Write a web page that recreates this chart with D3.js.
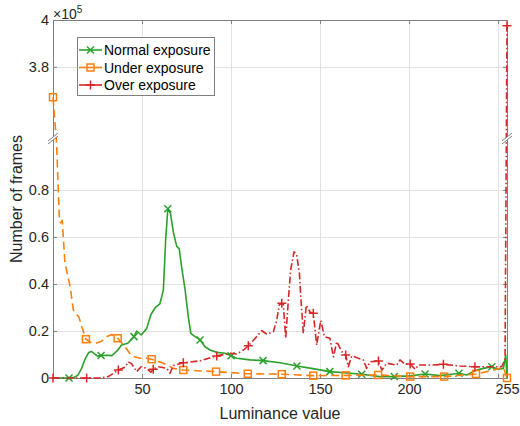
<!DOCTYPE html>
<html>
<head>
<meta charset="utf-8">
<script src="https://cdn.jsdelivr.net/npm/d3@7"></script>
<style>
  body { margin: 0; background: #fff; }
  svg { display: block; font-family: "Liberation Sans", Arial, sans-serif; }
</style>
</head>
<body>
<svg id="chart" width="520" height="426"></svg>
<script>
const WIDTH = 520;
const HEIGHT = 426;
const PLOT = { left: 53, right: 507, top: 20, bottom: 378 };
const BREAK_Y = 137;

// broken y axis: lower panel 0..1.025, upper panel 3.5..4 (x 10^5)
const LOWER_MAX = 1.025;
const UPPER_MIN = 3.5;
const UPPER_MAX = 4;

const xTicks = [50, 100, 150, 200, 250, 255];
const xTickLabels = ["50", "100", "150", "200", "", "255"];
const yTicks = [0, 0.2, 0.4, 0.6, 0.8, 3.8, 4];
const yTickLabels = ["0", "0.2", "0.4", "0.6", "0.8", "3.8", "4"];

const seriesNames = ["Normal exposure", "Under exposure", "Over exposure"];

// Normal exposure
const normalLum = [0, 9, 12, 14, 16, 18, 20, 21.5, 23, 25, 27, 30, 33, 36, 38.5, 42, 45.5, 47, 49.5, 52.6, 55,
  57.5, 60, 62, 63.3, 64.5, 66, 67.6, 69.5, 70.9, 72.3, 74.2, 76, 77.4, 79.8, 82.6, 85.4, 88.2, 92, 96.6,
  100, 103.2, 110.7, 118, 127.5, 137, 146, 155.5, 167, 173.4, 183.7, 191.7, 200.6, 209, 217.4, 225, 228,
  232.4, 238, 241.7, 246.5, 250, 253, 254.3, 255];
const normalVal = [0, 0, 0.003, 0.012, 0.04, 0.08, 0.108, 0.113, 0.105, 0.093, 0.096, 0.097, 0.095, 0.115, 0.14, 0.148, 0.176, 0.2, 0.183, 0.21, 0.27,
  0.3, 0.315, 0.375, 0.59, 0.72, 0.70, 0.62, 0.56, 0.55, 0.47, 0.375, 0.26, 0.19, 0.176, 0.162, 0.133, 0.119, 0.109, 0.105,
  0.095, 0.084, 0.077, 0.074, 0.065, 0.051, 0.04, 0.027, 0.02, 0.016, 0.006, 0.006, 0.009, 0.017, 0.01, 0.017, 0.02,
  0.013, 0.034, 0.041, 0.048, 0.037, 0.041, 0.098, 0];
const normalMarks = [9, 27, 45.5, 64.5, 82.6, 100, 118, 137, 155.5, 173.4, 191.7, 209, 228, 246.5];

// Under exposure
const underLum = [0, 2, 3.5, 4.2, 5.2, 6.7, 9.6, 11.4, 13.3, 14.5, 16.1, 17.4, 18.5, 21, 24, 27, 30, 33, 36.3, 40.4,
  44.2, 48.9, 52.6, 55.4, 62, 67.6, 73.2, 91.6, 109.4, 128.5, 146.2, 164.4, 182.6, 200.6, 219.7, 237.6, 243.6,
  247.3, 253, 255];
const underVal = [3.67, 1.0, 0.69, 0.66, 0.67, 0.49, 0.39, 0.29, 0.27, 0.26, 0.22, 0.19, 0.165, 0.152, 0.148, 0.155, 0.175, 0.185, 0.169, 0.133,
  0.094, 0.084, 0.084, 0.08, 0.063, 0.041, 0.034, 0.027, 0.018, 0.016, 0.01, 0.011, 0.013, 0.006, 0.006, 0.017, 0.027,
  0.034, 0.045, 0];
const underMarks = [0, 18.5, 36.3, 55.4, 73.2, 91.6, 109.4, 128.5, 146.2, 164.4, 182.6, 200.6, 219.7, 237.6, 255];

// Over exposure
const overLum = [0, 18.9, 26, 31, 34, 36.7, 40.4, 42.3, 44.2, 47, 49.5, 52.6, 55, 56.3, 59.2, 63.9, 65.7, 67.6, 73.2,
  82.6, 92, 99.4, 103.2, 107, 109.7, 114.4, 117.2, 120, 123.8, 125.7, 127.1, 128.5, 129.4, 130.7, 132.2, 133.5,
  135.4, 136.9, 138.4, 139.3, 140.6, 142.3, 144.4, 146.2, 148.1, 150.4, 152.5, 155.5, 157.5, 159.4, 162.2, 164.4,
  165.9, 167.8, 171.5, 174.3, 176.2, 178.1, 182.8, 184.7, 187.5, 193.1, 194.9, 197.8, 200.6, 203.4, 205.2, 213.7,
  219.3, 228.7, 237, 243.6, 252, 253.9, 255];
const overVal = [0, 0, 0, 0.006, 0.02, 0.034, 0.046, 0.069, 0.06, 0.027, 0.048, 0.041, 0.025, 0.037, 0.048, 0.041, 0.02, 0.053, 0.065,
  0.073, 0.094, 0.105, 0.102, 0.119, 0.137, 0.176, 0.201, 0.187, 0.197, 0.247, 0.311, 0.318, 0.311, 0.169, 0.332, 0.46,
  0.537, 0.523, 0.445, 0.332, 0.19, 0.31, 0.28, 0.275, 0.14, 0.245, 0.176, 0.169, 0.09, 0.155, 0.112, 0.098,
  0.048, 0.094, 0.084, 0.077, 0.041, 0.069, 0.072, 0.034, 0.063, 0.055, 0.077, 0.058, 0.06, 0.037, 0.055, 0.055,
  0.058, 0.051, 0.048, 0.048, 0.048, 0.077, 3.975];
const overMarks = [0, 18.9, 36.7, 56.3, 73.2, 92, 109.7, 128.5, 146.2, 164.4, 182.8, 200.6, 219.3, 237, 255];

const series = [
  { name: seriesNames[0], lum: normalLum, val: normalVal, marks: normalMarks, color: "#2ca02c", dash: null, marker: "x" },
  { name: seriesNames[1], lum: underLum, val: underVal, marks: underMarks, color: "#ff7f0e", dash: "8,4.5", marker: "square" },
  { name: seriesNames[2], lum: overLum, val: overVal, marks: overMarks, color: "#d62728", dash: "7,2.5,1.5,2.5", marker: "plus" }
];

const svg = d3.select("#chart").attr("viewBox", [0, 0, WIDTH, HEIGHT]);

const x = d3.scaleLinear().domain([0, 255]).range([PLOT.left, PLOT.right]);
const y = d3.scaleLinear()
  .domain([0, LOWER_MAX, UPPER_MIN, UPPER_MAX])
  .range([PLOT.bottom, BREAK_Y, BREAK_Y, PLOT.top]);

const AXIS_COLOR = "#808080";
const TEXT_COLOR = "#262626";
const GRID_COLOR = "#e2e2e2";

// grid
const grid = svg.append("g");
grid.selectAll("line.gx")
  .data([50, 100, 150, 200, 250])
  .join("line")
  .attr("x1", d => Math.round(x(d)) + 0.5).attr("x2", d => Math.round(x(d)) + 0.5)
  .attr("y1", PLOT.top).attr("y2", PLOT.bottom)
  .attr("stroke", GRID_COLOR);
grid.selectAll("line.gy")
  .data([0.2, 0.4, 0.6, 0.8, 3.8])
  .join("line")
  .attr("y1", d => Math.round(y(d)) + 0.5).attr("y2", d => Math.round(y(d)) + 0.5)
  .attr("x1", PLOT.left).attr("x2", PLOT.right)
  .attr("stroke", GRID_COLOR);

// axes (ticks inside, box drawn separately)
const fmtX = d => xTickLabels[xTicks.indexOf(d)];
const fmtY = d => yTickLabels[yTicks.indexOf(d)];

function styleAxis(sel) {
  sel.select(".domain").remove();
  sel.selectAll(".tick line").attr("stroke", AXIS_COLOR);
  sel.selectAll(".tick text").attr("fill", TEXT_COLOR).style("font-size", "14.5px");
}

svg.append("g")
  .attr("transform", `translate(0,${PLOT.bottom})`)
  .call(d3.axisBottom(x).tickValues(xTicks).tickFormat(fmtX).tickSize(-4).tickPadding(6))
  .call(styleAxis);
svg.append("g")
  .attr("transform", `translate(0,${PLOT.top})`)
  .call(d3.axisTop(x).tickValues(xTicks).tickFormat("").tickSize(-4))
  .call(styleAxis);
svg.append("g")
  .attr("transform", `translate(${PLOT.left},0)`)
  .call(d3.axisLeft(y).tickValues(yTicks).tickFormat(fmtY).tickSize(-4).tickPadding(4))
  .call(styleAxis);
svg.append("g")
  .attr("transform", `translate(${PLOT.right},0)`)
  .call(d3.axisRight(y).tickValues(yTicks).tickFormat("").tickSize(-4))
  .call(styleAxis);

svg.selectAll(".tick text").attr("font-family", null);

// box
svg.append("rect")
  .attr("x", PLOT.left + 0.5).attr("y", PLOT.top + 0.5)
  .attr("width", PLOT.right - PLOT.left).attr("height", PLOT.bottom - PLOT.top)
  .attr("fill", "none").attr("stroke", AXIS_COLOR);

// exponent label
const expo = svg.append("text")
  .attr("x", PLOT.left).attr("y", 19)
  .attr("fill", TEXT_COLOR).style("font-size", "14px");
expo.append("tspan").text("×10");
expo.append("tspan").attr("dy", -6).style("font-size", "10px").text("5");

// markers
function drawMarker(g, type, color, cx, cy) {
  if (type === "x") {
    const s = 3.5;
    g.append("path").attr("d", `M${cx - s},${cy - s}L${cx + s},${cy + s}M${cx - s},${cy + s}L${cx + s},${cy - s}`)
      .attr("stroke", color).attr("stroke-width", 1.5).attr("fill", "none");
  } else if (type === "square") {
    const s = 3.5;
    g.append("rect").attr("x", cx - s).attr("y", cy - s).attr("width", 2 * s).attr("height", 2 * s)
      .attr("stroke", color).attr("stroke-width", 1.5).attr("fill", "none");
  } else {
    const s = 4.5;
    g.append("path").attr("d", `M${cx - s},${cy}L${cx + s},${cy}M${cx},${cy - s}L${cx},${cy + s}`)
      .attr("stroke", color).attr("stroke-width", 1.5).attr("fill", "none");
  }
}

const line = d3.line().x(d => x(d[0])).y(d => y(d[1]));

series.forEach(s => {
  const pts = s.lum.map((l, i) => [l, s.val[i]]);
  const g = svg.append("g");
  g.append("path")
    .attr("d", line(pts))
    .attr("fill", "none")
    .attr("stroke", s.color)
    .attr("stroke-width", 1.6)
    .attr("stroke-linejoin", "round")
    .attr("stroke-dasharray", s.dash);
  s.marks.forEach(m => {
    const i = s.lum.indexOf(m);
    if (i >= 0) drawMarker(g, s.marker, s.color, x(s.lum[i]), y(s.val[i]));
  });
});

// axis break marks
[PLOT.left, PLOT.right].forEach(bx => {
  const g = svg.append("g");
  g.append("path")
    .attr("d", `M${bx - 5},${BREAK_Y + 4}L${bx + 5},${BREAK_Y - 4}L${bx + 5},${BREAK_Y - 1}L${bx - 5},${BREAK_Y + 7}Z`)
    .attr("fill", "#fff");
  g.append("path")
    .attr("d", `M${bx - 5},${BREAK_Y + 4}L${bx + 5},${BREAK_Y - 4}M${bx - 5},${BREAK_Y + 7}L${bx + 5},${BREAK_Y - 1}`)
    .attr("stroke", AXIS_COLOR).attr("fill", "none");
});

// legend
const legend = svg.append("g");
legend.append("rect")
  .attr("x", 77.5).attr("y", 37.5).attr("width", 137).attr("height", 58)
  .attr("fill", "#fff").attr("stroke", AXIS_COLOR);
series.forEach((s, i) => {
  const ly = 50 + i * 17.5;
  const g = legend.append("g");
  g.append("line").attr("x1", 79).attr("x2", 102).attr("y1", ly).attr("y2", ly)
    .attr("stroke", s.color).attr("stroke-width", 1.6);
  drawMarker(g, s.marker, s.color, 90.5, ly);
  g.append("text").attr("x", 104).attr("y", ly + 5)
    .attr("fill", "#000").style("font-size", "14px").text(s.name);
});

// axis titles
svg.append("text")
  .attr("x", (PLOT.left + PLOT.right) / 2).attr("y", 419)
  .attr("text-anchor", "middle").attr("fill", TEXT_COLOR)
  .style("font-size", "16px").text("Luminance value");
svg.append("text")
  .attr("transform", `translate(22,${(PLOT.top + PLOT.bottom) / 2}) rotate(-90)`)
  .attr("text-anchor", "middle").attr("fill", TEXT_COLOR)
  .style("font-size", "16px").text("Number of frames");
</script>
</body>
</html>
